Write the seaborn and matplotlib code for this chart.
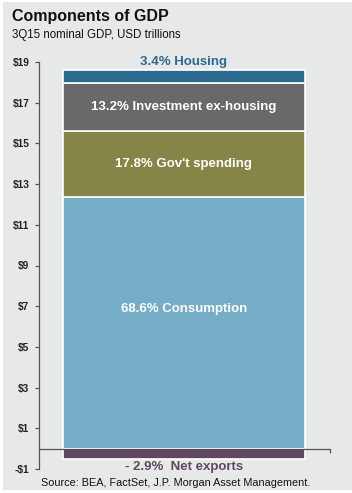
import matplotlib
matplotlib.use("Agg")
import matplotlib.pyplot as plt
import numpy as np
import pandas as pd
import seaborn as sns

# ── Data (3Q15 nominal GDP, USD trillions) ─────────────────────────────────────
SEGMENTS = ["Consumption", "Gov't spending", "Investment ex-housing", "Housing"]
VALUES   = [12.39, 3.21, 2.38, 0.61]
SHARES   = ["68.6%", "17.8%", "13.2%", "3.4%"]
NET_EXPORTS       = -0.52
NET_EXPORTS_SHARE = "- 2.9%"
YTICKS   = [-1, 1, 3, 5, 7, 9, 11, 13, 15, 17, 19]
YLABELS  = ["-$1", "$1", "$3", "$5", "$7", "$9", "$11", "$13", "$15", "$17", "$19"]

COLOURS  = ["#76ADC6", "#858548", "#68696B", "#2C6A8F"]
NX_COLOUR = "#614761"
BG = "#E7E8E8"

sns.set_style("white")
plt.rcParams["font.family"] = ["Liberation Sans", "DejaVu Sans"]

fig = plt.figure(figsize=(3.52, 4.93), dpi=100, facecolor="white")
fig.patches.append(plt.Rectangle((3 / 352, 3 / 493), 1, 1 - 5 / 493,
                                 transform=fig.transFigure,
                                 facecolor=BG, edgecolor="none", zorder=-10))
ax = fig.add_axes([39 / 352, 1 - 469 / 493, 291 / 352, (469 - 62) / 493])
ax.set_facecolor("none")

# ── Stacked positive segments ──────────────────────────────────────────────────
bottoms = np.concatenate([[0], np.cumsum(VALUES)[:-1]])
for seg, val, bot, col in zip(SEGMENTS, VALUES, bottoms, COLOURS):
    sns.barplot(x=["GDP"], y=[val], bottom=bot, color=col, saturation=1,
                width=0.8, edgecolor="white", linewidth=1.2, ax=ax)

# net exports (negative)
sns.barplot(x=["GDP"], y=[NET_EXPORTS], color=NX_COLOUR, saturation=1,
            width=0.8, edgecolor="white", linewidth=1.2, ax=ax)

ax.set_xlim(-0.479, 0.483)
ax.set_ylim(-1, 19)

# ── Labels ────────────────────────────────────────────────────────────────────
txt = dict(ha="center", va="center", fontsize=9.5, fontweight="bold")
for i, (seg, val, bot, share) in enumerate(zip(SEGMENTS, VALUES, bottoms, SHARES)):
    label = f"{share} {seg}"
    if seg == "Housing":
        ax.text(0, 19.0, label, color=COLOURS[i], **txt)
    else:
        y = bot + val / 2 + (0.65 if seg == "Consumption" else 0)
        ax.text(0, y, label, color="white", **txt)
ax.text(0, -0.92, f"{NET_EXPORTS_SHARE}  Net exports", color=NX_COLOUR, **txt)

# ── Axes styling ──────────────────────────────────────────────────────────────
ax.set_yticks(YTICKS)
ax.set_yticklabels(YLABELS, fontsize=7.3, fontweight="bold", color="#222222")
ax.set_xticks([0.483])
ax.set_xticklabels([""])
ax.tick_params(axis="both", direction="out", length=3, width=0.9,
               color="#555555", left=True, bottom=True, pad=4)
for s in ["top", "right"]:
    ax.spines[s].set_visible(False)
ax.spines["left"].set_color("#555555")
ax.spines["left"].set_linewidth(0.9)
ax.spines["bottom"].set_position(("data", 0))
ax.spines["bottom"].set_color("#555555")
ax.spines["bottom"].set_linewidth(0.9)
ax.set_xlabel("")
ax.set_ylabel("")

# ── Titles & source ───────────────────────────────────────────────────────────
fig.text(12 / 352, 1 - 17 / 493, "Components of GDP", fontsize=11.5,
         fontweight="bold", color="#111111", ha="left", va="center")
fig.text(12 / 352, 1 - 35 / 493, "3Q15 nominal GDP, USD trillions",
         fontsize=8.3, color="#111111", ha="left", va="center")
fig.text(176 / 352, 1 - 483 / 493,
         "Source: BEA, FactSet, J.P. Morgan Asset Management.",
         fontsize=7.8, color="#111111", ha="center", va="center")

fig.savefig("out.png", dpi=100, facecolor=fig.get_facecolor())
